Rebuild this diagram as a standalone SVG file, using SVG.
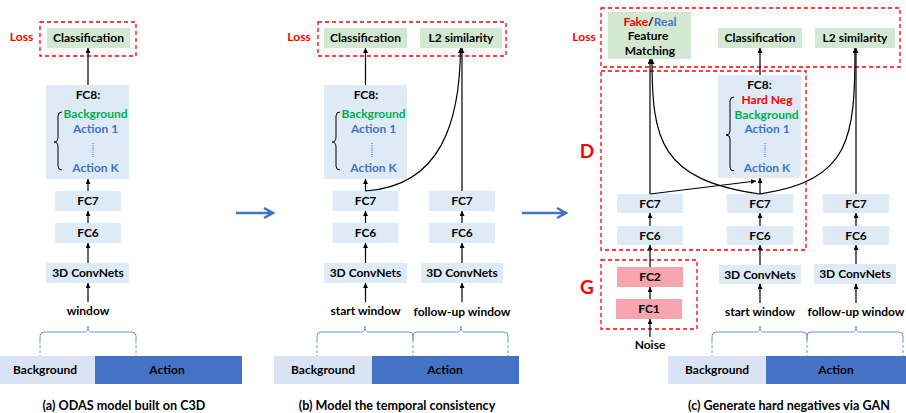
<svg xmlns="http://www.w3.org/2000/svg" width="906" height="413" viewBox="0 0 906 413">
<defs>
<marker id="ah" viewBox="0 0 6 6" refX="6" refY="3" markerWidth="5" markerHeight="5" markerUnits="userSpaceOnUse" orient="auto"><path d="M0,0 L6,3 L0,6 z" fill="#000"/></marker>
</defs>
<style>
text{font-family:Lato,"Liberation Sans",sans-serif;font-weight:bold;font-size:12px;text-anchor:middle;fill:#000}
.b{fill:#deebf7}
.g{fill:#d3e8d1}
.p{fill:#f6a5ae}
.bg{fill:#dae3f3}
.ac{fill:#4472c4}
.red{fill:#ff0000}
.grn{fill:#00b050}
.blu{fill:#4472c4}
.cap{font-size:12.6px}
.big{font-size:19px}
.dash{fill:none;stroke:#ff0000;stroke-width:1.3;stroke-dasharray:4 3}
.ar{fill:none;stroke:#000;stroke-width:1.2;marker-end:url(#ah)}
.br{fill:none;stroke:#000;stroke-width:1}
.tb{fill:none;stroke:#6f94d2;stroke-width:1}
.tbd{fill:none;stroke:#6f94d2;stroke-width:1;stroke-dasharray:3 2}
.dot{stroke:#4472c4;stroke-width:1.2;stroke-dasharray:1 1.2}
.big-ar{fill:none;stroke:#4472c4;stroke-width:2.5}
</style>

<!-- ===== Panel (a) ===== -->
<g id="a-loss">
<text x="21.5" y="41" class="red">Loss</text>
<rect x="40" y="22" width="96" height="34" class="dash"/>
</g>
<g id="a-class"><rect x="47" y="28" width="83" height="20" class="g"/><text x="88.5" y="42">Classification</text></g>
<g id="a-fc8">
<rect x="46" y="85" width="83" height="94" class="b"/>
<text x="88" y="99">FC8:</text>
<text x="95.5" y="118" class="grn">Background</text>
<text x="95.5" y="133" class="blu">Action 1</text>
<line x1="93" y1="143" x2="93" y2="157" class="dot"/>
<text x="95.5" y="172" class="blu">Action K</text>
<path d="M62,112 Q58,112 58,116 L58,137 Q58,142 54,142 Q58,142 58,147 L58,166 Q58,170 62,170" class="br"/>
</g>
<g id="a-fc7"><rect x="55" y="191" width="66" height="20" class="b"/><text x="88" y="205">FC7</text></g>
<g id="a-fc6"><rect x="55" y="223" width="66" height="20" class="b"/><text x="88" y="237">FC6</text></g>
<g id="a-conv"><rect x="46" y="263" width="83" height="20" class="b"/><text x="88" y="277">3D ConvNets</text></g>
<g id="a-window"><text x="88" y="315">window</text></g>
<g id="a-timeline">
<path d="M40,340 L40,336 Q40,332 44,332 L85,332 Q88,332 88,326 Q88,332 91,332 L132,332 Q136,332 136,336 L136,340" class="tb"/>
<path d="M40,340 V356 M136,340 V356" class="tbd"/>
<rect x="0" y="356" width="95" height="28" class="bg"/>
<rect x="95" y="356" width="147" height="28" class="ac"/>
<text x="45" y="374">Background</text>
<text x="167" y="374">Action</text>
</g>
<g id="a-caption"><text x="124" y="410" class="cap">(a) ODAS model built on C3D</text></g>

<!-- ===== Panel (b) ===== -->
<g id="b-loss">
<text x="299" y="41" class="red">Loss</text>
<rect x="318" y="22" width="188" height="34" class="dash"/>
</g>
<g id="b-class"><rect x="324" y="28" width="83" height="20" class="g"/><text x="365.5" y="42">Classification</text></g>
<g id="b-l2"><rect x="420" y="28" width="82" height="20" class="g"/><text x="461" y="42">L2 similarity</text></g>
<g id="b-fc8">
<rect x="324" y="85" width="83" height="94" class="b"/>
<text x="366" y="99">FC8:</text>
<text x="373.5" y="118" class="grn">Background</text>
<text x="373.5" y="133" class="blu">Action 1</text>
<line x1="372" y1="143" x2="372" y2="157" class="dot"/>
<text x="373.5" y="172" class="blu">Action K</text>
<path d="M340,112 Q336,112 336,116 L336,137 Q336,142 332,142 Q336,142 336,147 L336,166 Q336,170 340,170" class="br"/>
</g>
<g id="b-fc7s"><rect x="332.5" y="191" width="66" height="20" class="b"/><text x="365.5" y="205">FC7</text></g>
<g id="b-fc6s"><rect x="332.5" y="223" width="66" height="20" class="b"/><text x="365.5" y="237">FC6</text></g>
<g id="b-convs"><rect x="324" y="263" width="83" height="20" class="b"/><text x="365.5" y="277">3D ConvNets</text></g>
<g id="b-fc7f"><rect x="429" y="191" width="66" height="20" class="b"/><text x="462" y="205">FC7</text></g>
<g id="b-fc6f"><rect x="429" y="223" width="66" height="20" class="b"/><text x="462" y="237">FC6</text></g>
<g id="b-convf"><rect x="421" y="263" width="82" height="20" class="b"/><text x="462" y="277">3D ConvNets</text></g>
<g id="b-swin"><text x="365.5" y="315">start window</text></g>
<g id="b-fwin"><text x="462" y="316">follow-up window</text></g>
<g id="b-timeline">
<path d="M317,340 L317,336 Q317,332 321,332 L362,332 Q365,332 365,326 Q365,332 368,332 L409,332 Q413,332 413,336 L413,340" class="tb"/>
<path d="M413,340 L413,336 Q413,332 417,332 L458,332 Q461,332 461,326 Q461,332 464,332 L504,332 Q508,332 508,336 L508,340" class="tb"/>
<path d="M317,340 V356 M413,340 V356 M508,340 V356" class="tbd"/>
<rect x="274" y="356" width="98" height="28" class="bg"/>
<rect x="372" y="356" width="147" height="28" class="ac"/>
<text x="323" y="374">Background</text>
<text x="445" y="374">Action</text>
</g>
<g id="b-caption"><text x="397" y="410" class="cap">(b) Model the temporal consistency</text></g>

<!-- ===== Panel (c) ===== -->
<g id="c-loss">
<text x="584" y="41" class="red">Loss</text>
<rect x="601" y="8" width="299" height="59" class="dash"/>
</g>
<g id="c-fake">
<rect x="608" y="12" width="83" height="47" class="g"/>
<text x="650" y="26"><tspan class="red">Fake</tspan>/<tspan class="blu">Real</tspan></text>
<text x="648" y="40">Feature</text>
<text x="650" y="55">Matching</text>
</g>
<g id="c-class"><rect x="718" y="28" width="84" height="20" class="g"/><text x="760" y="42">Classification</text></g>
<g id="c-l2"><rect x="815" y="28" width="80" height="20" class="g"/><text x="855" y="42">L2 similarity</text></g>
<g id="c-D">
<rect x="601" y="71" width="205" height="179" class="dash"/>
<text x="587" y="158" class="red big">D</text>
</g>
<g id="c-fc8">
<rect x="718" y="75" width="83" height="103" class="b"/>
<text x="759.5" y="89">FC8:</text>
<text x="767" y="104" class="red">Hard Neg</text>
<text x="766.5" y="119" class="grn">Background</text>
<text x="767" y="133" class="blu">Action 1</text>
<line x1="765" y1="143" x2="765" y2="157" class="dot"/>
<text x="767" y="172" class="blu">Action K</text>
<path d="M734,97 Q730,97 730,101 L730,131 Q730,135 726,135 Q730,135 730,139 L730,167 Q730,171 734,171" class="br"/>
</g>
<g id="c-fc7l"><rect x="617" y="194" width="66" height="19" class="b"/><text x="650" y="208">FC7</text></g>
<g id="c-fc6l"><rect x="617" y="226" width="66" height="19" class="b"/><text x="650" y="240">FC6</text></g>
<g id="c-fc7m"><rect x="727" y="194" width="66" height="19" class="b"/><text x="760" y="208">FC7</text></g>
<g id="c-fc6m"><rect x="727" y="226" width="66" height="19" class="b"/><text x="760" y="240">FC6</text></g>
<g id="c-convm"><rect x="719" y="265" width="82" height="19" class="b"/><text x="760" y="279">3D ConvNets</text></g>
<g id="c-fc7r"><rect x="823" y="194" width="66" height="19" class="b"/><text x="856" y="208">FC7</text></g>
<g id="c-fc6r"><rect x="823" y="226" width="66" height="19" class="b"/><text x="856" y="240">FC6</text></g>
<g id="c-convr"><rect x="814" y="264" width="82" height="20" class="b"/><text x="855" y="278">3D ConvNets</text></g>
<g id="c-G">
<rect x="601" y="260" width="96" height="69" class="dash"/>
<text x="587" y="294" class="red big">G</text>
</g>
<g id="c-fc2"><rect x="617" y="267" width="66" height="20" class="p"/><text x="650" y="281">FC2</text></g>
<g id="c-fc1"><rect x="616" y="299" width="66" height="20" class="p"/><text x="649" y="313">FC1</text></g>
<g id="c-noise"><text x="650" y="349">Noise</text></g>
<g id="c-swin"><text x="760" y="316">start window</text></g>
<g id="c-fwin"><text x="856" y="316">follow-up window</text></g>
<g id="c-timeline">
<path d="M712,340 L712,336 Q712,332 716,332 L757,332 Q760,332 760,326 Q760,332 763,332 L803,332 Q807,332 807,336 L807,340" class="tb"/>
<path d="M807,340 L807,336 Q807,332 811,332 L853,332 Q856,332 856,326 Q856,332 859,332 L899,332 Q903,332 903,336 L903,340" class="tb"/>
<path d="M712,340 V356 M807,340 V356 M903,340 V356" class="tbd"/>
<rect x="668" y="356" width="98" height="28" class="bg"/>
<rect x="766" y="356" width="140" height="28" class="ac"/>
<text x="717" y="374">Background</text>
<text x="836" y="374">Action</text>
</g>
<g id="c-caption"><text x="789" y="410" class="cap">(c) Generate hard negatives via GAN</text></g>

<!-- ===== Connectors ===== -->
<g id="connectors">
<path d="M236,213 H272 M264,208 L273,213 L264,218" class="big-ar"/>
<path d="M522,213 H565 M557,208 L566,213 L557,218" class="big-ar"/>
<line x1="88" y1="85" x2="88" y2="48" class="ar"/>
<line x1="88" y1="191" x2="88" y2="179" class="ar"/>
<line x1="88" y1="223" x2="88" y2="211" class="ar"/>
<line x1="88" y1="263" x2="88" y2="243" class="ar"/>
<line x1="88" y1="302" x2="88" y2="283" class="ar"/>
<line x1="365.5" y1="85" x2="365.5" y2="48" class="ar"/>
<line x1="365.5" y1="191" x2="365.5" y2="179" class="ar"/>
<line x1="365.5" y1="223" x2="365.5" y2="211" class="ar"/>
<line x1="365.5" y1="263" x2="365.5" y2="243" class="ar"/>
<line x1="365.5" y1="302" x2="365.5" y2="283" class="ar"/>
<path d="M365.5,191 C442,186 460,120 460.5,48" class="ar"/>
<line x1="462" y1="191" x2="462" y2="48" class="ar"/>
<line x1="462" y1="223" x2="462" y2="211" class="ar"/>
<line x1="462" y1="263" x2="462" y2="243" class="ar"/>
<line x1="462" y1="302" x2="462" y2="283" class="ar"/>
<line x1="760" y1="75" x2="760" y2="48" class="ar"/>
<line x1="650" y1="194" x2="650" y2="59" class="ar"/>
<line x1="650" y1="194" x2="756" y2="181" class="ar"/>
<line x1="760" y1="194" x2="760" y2="178" class="ar"/>
<path d="M760,194 C660,180 652,140 652,59" class="ar"/>
<path d="M760,194 C850,180 855,140 855,48" class="ar"/>
<line x1="856" y1="194" x2="856" y2="48" class="ar"/>
<line x1="650" y1="226" x2="650" y2="213" class="ar"/>
<line x1="650" y1="267" x2="650" y2="245" class="ar"/>
<line x1="650" y1="299" x2="650" y2="287" class="ar"/>
<line x1="650" y1="337" x2="650" y2="319" class="ar"/>
<line x1="760" y1="226" x2="760" y2="213" class="ar"/>
<line x1="760" y1="265" x2="760" y2="245" class="ar"/>
<line x1="760" y1="303" x2="760" y2="284" class="ar"/>
<line x1="856" y1="226" x2="856" y2="213" class="ar"/>
<line x1="856" y1="264" x2="856" y2="245" class="ar"/>
<line x1="856" y1="303" x2="856" y2="284" class="ar"/>
</g>
</svg>
